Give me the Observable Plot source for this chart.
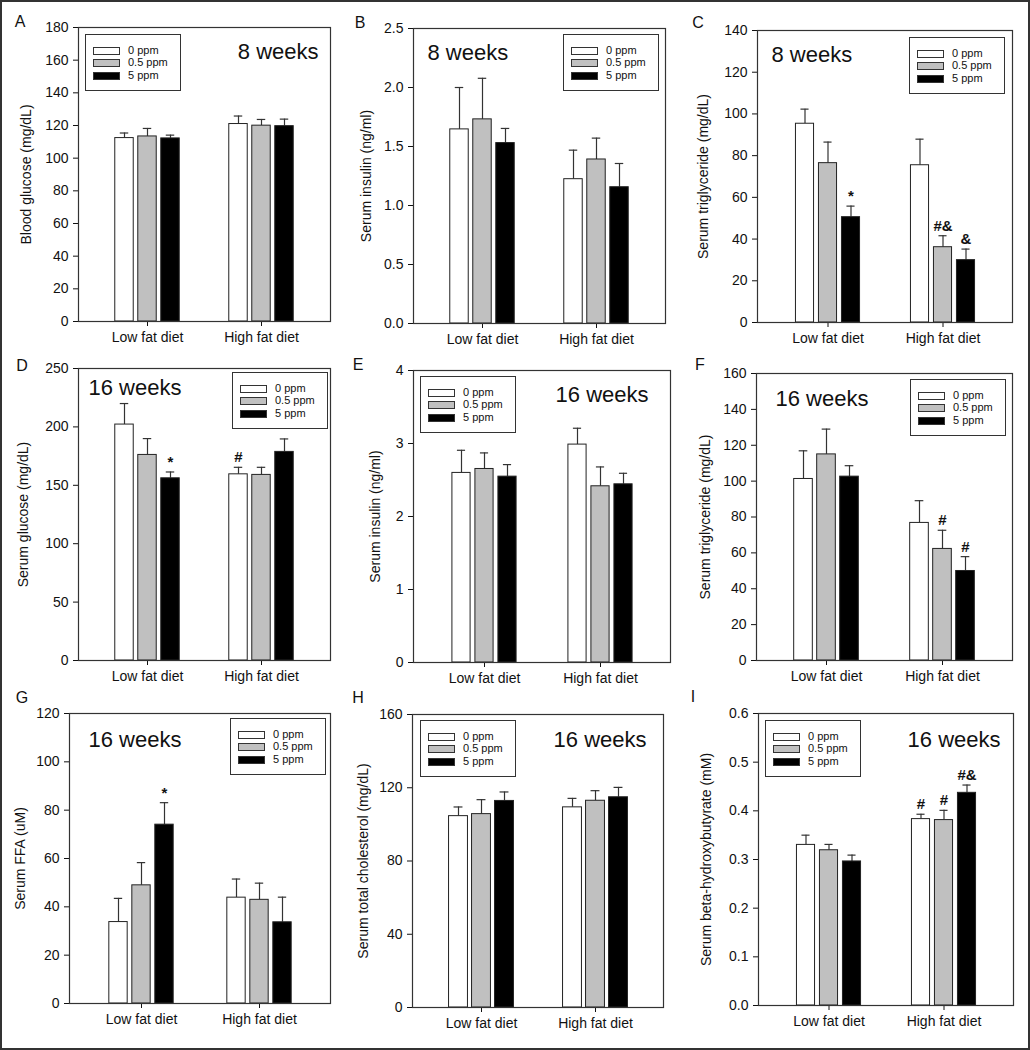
<!DOCTYPE html>
<html><head><meta charset="utf-8">
<script src="https://cdn.jsdelivr.net/npm/d3@7"></script>
<script src="https://cdn.jsdelivr.net/npm/@observablehq/plot@0.6"></script>
<style>
body{margin:0;background:#fff;}
#page{position:relative;width:1030px;height:1050px;background:#fff;font-family:"Liberation Sans",Arial,sans-serif;overflow:hidden;color:#111}
#border{position:absolute;left:0;top:0;width:1030px;height:1050px;box-sizing:border-box;border:2px solid #333;pointer-events:none}
.panel{position:absolute}
.letter{position:absolute;font-size:16px;color:#111;transform:translate(-50%,-50%);line-height:1}
.legend{position:absolute;border:1px solid #333;background:#fff;width:96px;height:57px;box-sizing:border-box}
.lrow{position:absolute;left:0;height:12px;width:100%}
.sw{position:absolute;left:7px;top:2px;width:27px;height:8px;box-sizing:border-box;border:1px solid #333}
.lt{position:absolute;left:42px;top:-1px;font-size:11px;line-height:13px;color:#111;white-space:nowrap}
</style>
</head><body>
<div id="page"><div id="border"></div></div>
<script>
// ---------- data ----------
const diets = ["Low fat diet", "High fat diet"];
const doses = ["0 ppm", "0.5 ppm", "5 ppm"];
const doseColors = ["#ffffff", "#c0c0c0", "#000000"];
// order of values: Low fat (0, 0.5, 5 ppm), High fat (0, 0.5, 5 ppm)
const glucose8Mean = [112.3, 113.3, 112.1, 120.9, 119.9, 119.6];
const glucose8Err  = [3.1, 4.9, 2.0, 4.9, 3.8, 4.3];
const glucose8Sig  = ["", "", "", "", "", ""];
const insulin8Mean = [1.645, 1.73, 1.529, 1.223, 1.39, 1.155];
const insulin8Err  = [0.355, 0.348, 0.124, 0.246, 0.181, 0.201];
const insulin8Sig  = ["", "", "", "", "", ""];
const tg8Mean = [95.3, 76.4, 50.5, 75.4, 36.1, 29.9];
const tg8Err  = [7.0, 10.1, 5.3, 12.5, 5.5, 5.3];
const tg8Sig  = ["", "", "*", "", "#&", "&"];
const glucose16Mean = [202, 176, 156, 159.4, 158.9, 178.6];
const glucose16Err  = [18, 14, 5.4, 6.0, 6.5, 11.1];
const glucose16Sig  = ["", "", "*", "#", "", ""];
const insulin16Mean = [2.597, 2.651, 2.546, 2.985, 2.414, 2.441];
const insulin16Err  = [0.31, 0.22, 0.165, 0.224, 0.265, 0.151];
const insulin16Sig  = ["", "", "", "", "", ""];
const tg16Mean = [101.2, 114.9, 102.5, 76.7, 62.2, 49.9];
const tg16Err  = [15.7, 14.1, 6.1, 12.4, 10.4, 8.0];
const tg16Sig  = ["", "", "", "", "#", "#"];
const ffaMean = [33.7, 48.9, 74.0, 43.8, 42.9, 33.6];
const ffaErr  = [9.8, 9.4, 9.1, 7.7, 6.9, 10.4];
const ffaSig  = ["", "", "*", "", "", ""];
const cholMean = [104.5, 105.6, 112.8, 109.3, 112.9, 114.8];
const cholErr  = [5.0, 7.9, 4.9, 4.9, 5.5, 5.4];
const cholSig  = ["", "", "", "", "", ""];
const bhbMean = [0.330, 0.319, 0.296, 0.383, 0.381, 0.437];
const bhbErr  = [0.020, 0.012, 0.013, 0.010, 0.020, 0.016];
const bhbSig  = ["", "", "", "#", "#", "#&"];

const ticksA = [0, 20, 40, 60, 80, 100, 120, 140, 160, 180];
const ticksB = [0, 0.5, 1.0, 1.5, 2.0, 2.5];
const ticksC = [0, 20, 40, 60, 80, 100, 120, 140];
const ticksD = [0, 50, 100, 150, 200, 250];
const ticksE = [0, 1, 2, 3, 4];
const ticksF = [0, 20, 40, 60, 80, 100, 120, 140, 160];
const ticksG = [0, 20, 40, 60, 80, 100, 120];
const ticksH = [0, 40, 80, 120, 160];
const ticksI = [0, 0.1, 0.2, 0.3, 0.4, 0.5, 0.6];

const yLabels = ["Blood glucose (mg/dL)", "Serum insulin (ng/ml)", "Serum triglyceride (mg/dL)",
  "Serum glucose (mg/dL)", "Serum insulin (ng/ml)", "Serum triglyceride (mg/dL)",
  "Serum FFA (uM)", "Serum total cholesterol (mg/dL)", "Serum beta-hydroxybutyrate (mM)"];
const letters = ["A", "B", "C", "D", "E", "F", "G", "H", "I"];
const weekLabels = ["8 weeks", "8 weeks", "8 weeks", "16 weeks", "16 weeks", "16 weeks", "16 weeks", "16 weeks", "16 weeks"];

const panelData = [
  {mean: glucose8Mean, err: glucose8Err, sig: glucose8Sig, ticks: ticksA, fmt: "d"},
  {mean: insulin8Mean, err: insulin8Err, sig: insulin8Sig, ticks: ticksB, fmt: ".1f"},
  {mean: tg8Mean, err: tg8Err, sig: tg8Sig, ticks: ticksC, fmt: "d"},
  {mean: glucose16Mean, err: glucose16Err, sig: glucose16Sig, ticks: ticksD, fmt: "d"},
  {mean: insulin16Mean, err: insulin16Err, sig: insulin16Sig, ticks: ticksE, fmt: "d"},
  {mean: tg16Mean, err: tg16Err, sig: tg16Sig, ticks: ticksF, fmt: "d"},
  {mean: ffaMean, err: ffaErr, sig: ffaSig, ticks: ticksG, fmt: "d"},
  {mean: cholMean, err: cholErr, sig: cholSig, ticks: ticksH, fmt: "d"},
  {mean: bhbMean, err: bhbErr, sig: bhbSig, ticks: ticksI, fmt: ".1f"}
];

// ---------- layout ----------
const layout = [
  {left:0,   top:0,   w:340, h:353, ml:78, mr:10, mt:27, mb:32, lx:20,  ly:22,  ld:50, wa:"top-right", wdx:-12, wdy:24, lg:{side:"left", x:7, y:7}},
  {left:340, top:0,   w:340, h:355, ml:73, mr:15, mt:28, mb:32, lx:360, ly:23,  ld:45, wa:"top-left",  wdx:14,  wdy:24, lg:{side:"right", x:6, y:6}},
  {left:680, top:0,   w:350, h:354, ml:77, mr:18, mt:30, mb:32, lx:698, ly:23,  ld:52, wa:"top-left",  wdx:14,  wdy:24, lg:{side:"right", x:7, y:7}},
  {left:0,   top:340, w:340, h:352, ml:78, mr:10, mt:28, mb:32, lx:22,  ly:366, ld:53, wa:"top-left",  wdx:10,  wdy:19, lg:{side:"right", x:2, y:4}},
  {left:340, top:340, w:340, h:354, ml:73, mr:10, mt:30, mb:32, lx:358, ly:365, ld:36, wa:"top-right", wdx:-22, wdy:24, lg:{side:"left", x:7, y:6}},
  {left:680, top:340, w:350, h:352, ml:76, mr:18, mt:33, mb:32, lx:700, ly:365, ld:49, wa:"top-left",  wdx:19,  wdy:25, lg:{side:"right", x:6, y:6}},
  {left:0,   top:680, w:340, h:355, ml:69, mr:10, mt:33, mb:32, lx:22,  ly:698, ld:47, wa:"top-left",  wdx:19,  wdy:26, lg:{side:"right", x:4, y:5}},
  {left:340, top:680, w:340, h:359, ml:72, mr:17, mt:34, mb:32, lx:358, ly:698, ld:47, wa:"top-right", wdx:-17, wdy:25, lg:{side:"left", x:8, y:6}},
  {left:680, top:680, w:350, h:357, ml:78, mr:17, mt:33, mb:32, lx:693, ly:697, ld:50, wa:"top-right", wdx:-13, wdy:26, lg:{side:"left", x:7, y:7}}
];

const page = document.getElementById("page");
const border = document.getElementById("border");

panelData.forEach((p, idx) => {
  const L = layout[idx];
  const rows = p.mean.map((m, i) => ({
    diet: diets[Math.floor(i / 3)], dose: doses[i % 3], k: i % 3,
    mean: m, top: m + p.err[i], sig: p.sig[i]
  }));
  const W = L.w - L.ml - L.mr;
  const step = W / 2.2;
  const barW = 19, capW = 9, gap = 23;
  const barInset = (step - barW) / 2, capInset = (step - capW) / 2;
  const marks = [];
  doses.forEach((d, k) => {
    const sub = rows.filter(r => r.k === k);
    const dx = (k - 1) * gap;
    marks.push(Plot.ruleX(sub, {x: "diet", y1: "mean", y2: "top", dx, stroke: "#333", strokeWidth: 1.2}));
    marks.push(Plot.tickY(sub, {x: "diet", y: "top", dx, stroke: "#333", strokeWidth: 1.2, insetLeft: capInset, insetRight: capInset}));
    marks.push(Plot.barY(sub, {x: "diet", y: "mean", fill: "dose", stroke: "#222", strokeWidth: 1, dx, insetLeft: barInset, insetRight: barInset}));
    marks.push(Plot.text(sub, {x: "diet", y: "top", text: "sig", dx, dy: -5, lineAnchor: "bottom", fontSize: 15, fontWeight: "bold", fill: "#111"}));
  });
  marks.push(Plot.frame({stroke: "#333", strokeWidth: 1.2}));
  marks.push(Plot.text([weekLabels[idx]], {text: d => d, frameAnchor: L.wa, dx: L.wdx, dy: L.wdy, lineAnchor: "middle", fontSize: 22, fill: "#111"}));

  const chart = Plot.plot({
    width: L.w, height: L.h,
    marginLeft: L.ml, marginRight: L.mr, marginTop: L.mt, marginBottom: L.mb,
    style: {fontFamily: "Liberation Sans, Arial, sans-serif", fontSize: "14px", color: "#111", background: "transparent", overflow: "visible"},
    x: {domain: diets, paddingInner: 0, paddingOuter: 0.1, label: null, tickSize: 5, tickPadding: 6},
    y: {domain: [0, p.ticks[p.ticks.length - 1]], ticks: p.ticks, tickFormat: d3.format(p.fmt),
        label: yLabels[idx], labelAnchor: "center", labelOffset: L.ld + 7, labelArrow: "none", tickSize: 5, tickPadding: 5},
    color: {domain: doses, range: doseColors},
    marks
  });
  const wrap = document.createElement("div");
  wrap.className = "panel";
  wrap.style.left = L.left + "px";
  wrap.style.top = L.top + "px";
  wrap.appendChild(chart);
  page.insertBefore(wrap, border);

  // legend inside frame
  const lg = document.createElement("div");
  lg.className = "legend";
  const fl = L.left + L.ml, fr = L.left + L.w - L.mr, ft = L.top + L.mt;
  lg.style.left = (L.lg.side === "left" ? fl + L.lg.x : fr - L.lg.x - 96) + "px";
  lg.style.top = (ft + L.lg.y) + "px";
  doses.forEach((d, k) => {
    const r = document.createElement("div");
    r.className = "lrow";
    r.style.top = (10 + k * 12.3) + "px";
    r.innerHTML = `<div class="sw" style="background:${doseColors[k]}"></div><div class="lt">${d}</div>`;
    lg.appendChild(r);
  });
  page.insertBefore(lg, border);

  const lt = document.createElement("div");
  lt.className = "letter";
  lt.style.left = L.lx + "px";
  lt.style.top = L.ly + "px";
  lt.textContent = letters[idx];
  page.insertBefore(lt, border);
});
</script>
</body></html>
